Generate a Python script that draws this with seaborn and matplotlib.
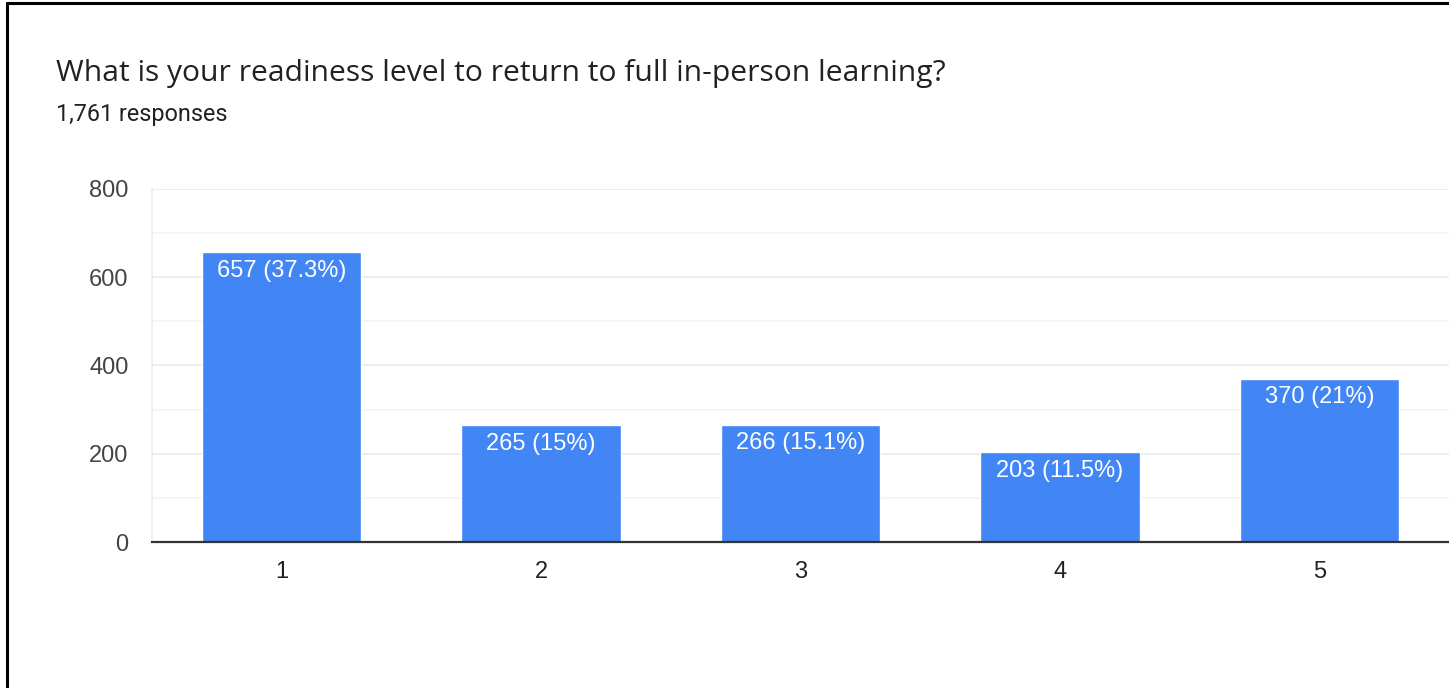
import matplotlib
matplotlib.use("Agg")
import matplotlib.pyplot as plt
import seaborn as sns
import pandas as pd
from matplotlib.lines import Line2D

categories = ["1", "2", "3", "4", "5"]
counts = [657, 265, 266, 203, 370]
labels = ["657 (37.3%)", "265 (15%)", "266 (15.1%)", "203 (11.5%)", "370 (21%)"]
y_ticks = [0, 200, 400, 600, 800]
title = "What is your readiness level to return to full in-person learning?"
subtitle = "1,761 responses"

sns.set_theme(style="white")
plt.rcParams['font.family'] = ['Liberation Sans', 'DejaVu Sans']

df = pd.DataFrame({"level": categories, "count": counts})

fig = plt.figure(figsize=(14.49, 6.88), dpi=100)
ax = fig.add_axes([0.1049, 0.2122, 0.8951, 0.5131])

sns.barplot(data=df, x="level", y="count", color="#4285F4", width=0.614,
            saturation=1, ax=ax, zorder=3)

ax.set_xlim(-0.5, 4.5)
ax.set_ylim(0, 800)
ax.set_yticks(y_ticks)
ax.set_yticks([100, 300, 500, 700], minor=True)
ax.grid(axis="y", which="major", color="#ebebeb", linewidth=1.2, zorder=0)
ax.grid(axis="y", which="minor", color="#f3f3f3", linewidth=1.2, zorder=0)
ax.set_axisbelow(True)
for s in ["top", "right"]:
    ax.spines[s].set_visible(False)
ax.spines["left"].set_color("#ececec")
ax.spines["left"].set_linewidth(1.2)
ax.spines["bottom"].set_color("#333333")
ax.spines["bottom"].set_linewidth(1.6)
ax.spines["bottom"].set_zorder(5)
ax.set_xlabel("")
ax.set_ylabel("")
ax.tick_params(axis="y", which="both", length=0, pad=17, labelsize=17, labelcolor="#444444")
ax.tick_params(axis="x", length=0, pad=14, labelsize=17, labelcolor="#222222")

for i, (c, lab) in enumerate(zip(counts, labels)):
    ax.annotate(lab, xy=(i, c), xytext=(0, -5.5), textcoords="offset points",
                ha="center", va="top", color="white", fontsize=17, zorder=6)

fig.text(56 / 1449, 1 - 73 / 688, title, fontsize=21.6, color="#202124",
         family=["Open Sans", "DejaVu Sans"], va="center", ha="left")
fig.text(56 / 1449, 1 - 114 / 688, subtitle, fontsize=16.8, color="#202124",
         family=["Roboto", "DejaVu Sans"], va="center", ha="left")

# frame lines (left and top)
fig.add_artist(Line2D([7 / 1449, 7 / 1449], [0, 1 - 3 / 688], transform=fig.transFigure,
                      color="black", linewidth=2.2))
fig.add_artist(Line2D([7 / 1449, 1], [1 - 3 / 688, 1 - 3 / 688], transform=fig.transFigure,
                      color="black", linewidth=2.2))

fig.savefig("out.png", dpi=100)
